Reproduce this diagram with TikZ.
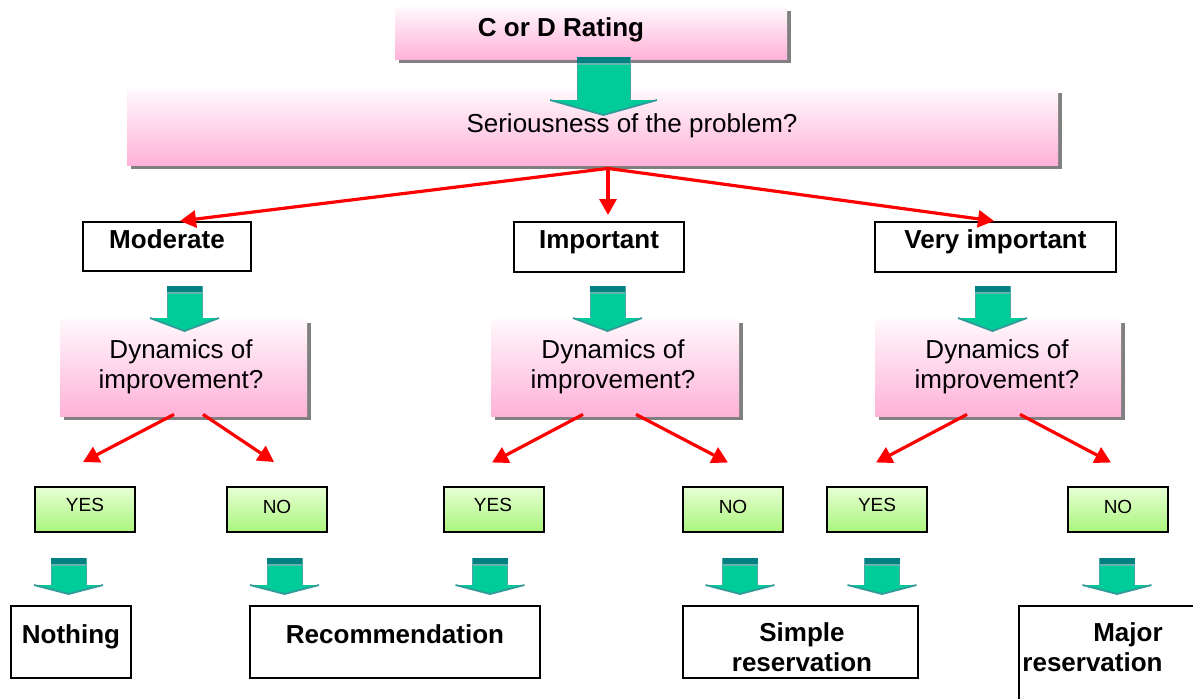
\documentclass[tikz,border=0pt]{standalone}
\usepackage{fontspec}
\setmainfont{Liberation Sans}
\usetikzlibrary{arrows.meta,shadows,calc}

\definecolor{pinktop}{RGB}{255,248,252}
\definecolor{pinkbot}{RGB}{255,178,216}
\definecolor{limetop}{RGB}{232,255,214}
\definecolor{limebot}{RGB}{170,245,125}
\definecolor{arrowgreen}{RGB}{0,204,153}
\definecolor{arrowteal}{RGB}{0,128,128}
\definecolor{shadowgray}{RGB}{128,128,128}

% fat down arrow: x, top, head base, tip, half shaft, half head
\newcommand{\tealarrow}[6]{%
  \fill[arrowgreen] (#1-#5,#2) -- (#1+#5,#2) -- (#1+#5,#3) -- (#1+#6,#3) -- (#1,#4) -- (#1-#6,#3) -- (#1-#5,#3) -- cycle;
  \draw[arrowteal!70, line width=0.4pt] (#1-#5,#3) -- (#1-#5,#2) -- (#1+#5,#2) -- (#1+#5,#3);
  \draw[arrowteal!80, line width=0.9pt] (#1-#6,#3) -- (#1,#4) -- (#1+#6,#3);
  \fill[arrowteal] (#1-#5,#2) rectangle (#1+#5,#2+6);
  \draw[arrowteal!60, line width=0.6pt] (#1-#5,#2+7) -- (#1+#5,#2+7);
}

\begin{document}
\begin{tikzpicture}[x=0.5pt, y=-0.5pt,
	qbox/.style={rectangle, inner sep=0pt, top color=pinktop, bottom color=pinkbot,
		drop shadow={shadow xshift=2pt, shadow yshift=-2pt, fill=shadowgray, opacity=1}},
	ratebox/.style={rectangle, draw=black, line width=1pt, fill=white, inner sep=0pt},
	ansbox/.style={rectangle, draw=black, line width=1pt, inner sep=0pt, top color=limetop, bottom color=limebot},
	bigtxt/.style={font=\fontsize{13}{15}\selectfont, anchor=base, inner sep=0pt, align=center},
	boldtxt/.style={bigtxt, font=\fontsize{13}{15}\selectfont\bfseries},
	smalltxt/.style={font=\fontsize{9.5}{11}\selectfont, anchor=base, inner sep=0pt},
	redline/.style={red, line width=1.6pt, -{Triangle[length=8pt,width=8.5pt]}}]
	\useasboundingbox (0,0) rectangle (1193,698);
	\clip (0,0) rectangle (1193,698);

	% question boxes
	\node[qbox, minimum width=196pt, minimum height=26pt] (rating) at (591,33) {};
	\node[qbox, minimum width=465.5pt, minimum height=38pt] (serious) at (592.5,127) {};
	\node[qbox, minimum width=123.5pt, minimum height=48.5pt] (dynL) at (183.5,367.5) {};
	\node[qbox, minimum width=124pt, minimum height=48.5pt] (dynM) at (615,367.5) {};
	\node[qbox, minimum width=123pt, minimum height=48.5pt] (dynR) at (998,367.5) {};

	% seriousness levels
	\node[ratebox, minimum width=84pt, minimum height=24.5pt] (moderate) at (167,246.5) {};
	\node[ratebox, minimum width=85pt, minimum height=25pt] (important) at (599,247) {};
	\node[ratebox, minimum width=120.5pt, minimum height=25pt] (veryimp) at (995.5,247) {};

	% answers
	\node[ansbox, minimum width=50pt, minimum height=22.5pt] (yesL) at (85,509) {};
	\node[ansbox, minimum width=50pt, minimum height=22.5pt] (noL) at (277,509) {};
	\node[ansbox, minimum width=50pt, minimum height=22.5pt] (yesM) at (494,509) {};
	\node[ansbox, minimum width=50pt, minimum height=22.5pt] (noM) at (733,509) {};
	\node[ansbox, minimum width=50pt, minimum height=22.5pt] (yesR) at (877,509) {};
	\node[ansbox, minimum width=50pt, minimum height=22.5pt] (noR) at (1118,509) {};

	% outcomes
	\node[ratebox, minimum width=60pt, minimum height=36pt] (nothing) at (71,642) {};
	\node[ratebox, minimum width=145pt, minimum height=36pt] (recomm) at (395,642) {};
	\node[ratebox, minimum width=117.5pt, minimum height=36pt] (simple) at (800.5,642) {};
	\node[ratebox, minimum width=100pt, minimum height=50pt] (major) at (1119,656) {};

	% texts
	\node[boldtxt] (ratingT) at (561,36) {C or D Rating};
	\node[bigtxt] (seriousT) at (632,132) {Seriousness of the problem?};
	\node[boldtxt] (moderateT) at (167,248) {Moderate};
	\node[boldtxt] (importantT) at (599,248) {Important};
	\node[boldtxt] (veryimpT) at (995.5,248) {Very important};
	\node[bigtxt] (dynLT) at (181,388) {Dynamics of\\improvement?};
	\node[bigtxt] (dynMT) at (613,388) {Dynamics of\\improvement?};
	\node[bigtxt] (dynRT) at (997,388) {Dynamics of\\improvement?};
	\node[smalltxt] (yesLT) at (85,511) {YES};
	\node[smalltxt] (noLT) at (277,513) {NO};
	\node[smalltxt] (yesMT) at (493,511) {YES};
	\node[smalltxt] (noMT) at (733,513) {NO};
	\node[smalltxt] (yesRT) at (877,511) {YES};
	\node[smalltxt] (noRT) at (1118,513) {NO};
	\node[boldtxt] (nothingT) at (71,643) {Nothing};
	\node[boldtxt] (recommT) at (395,643) {Recommendation};
	\node[boldtxt] (simpleT) at (802,671) {Simple\\reservation};
	\node[boldtxt, align=right, anchor=base east] (majorT) at (1163,671) {Major\\reservation};

	% fat arrows
	\tealarrow{603.5}{57}{100}{115}{26.5}{53.5}
	\tealarrow{184.5}{286}{318}{331}{17.5}{34.5}
	\tealarrow{607.5}{286}{318}{331}{17.5}{34.5}
	\tealarrow{992.5}{286}{318}{331}{17.5}{34.5}
	\tealarrow{68.5}{558}{585}{594}{17.5}{34.5}
	\tealarrow{284.5}{558}{585}{594}{17.5}{34.5}
	\tealarrow{490}{558}{585}{594}{17.5}{34.5}
	\tealarrow{740}{558}{585}{594}{17.5}{34.5}
	\tealarrow{882}{558}{585}{594}{17.5}{34.5}
	\tealarrow{1117}{558}{585}{594}{17.5}{34.5}

	% red branches
	\draw[redline] ($(serious.south)+(15.5,3)$) -- ($(moderate.north)+(13,0)$);
	\draw[redline] ($(serious.south)+(15.5,3)$) -- ($(important.north)+(9,-6)$);
	\draw[redline] ($(serious.south)+(15.5,3)$) -- ($(veryimp.north)+(-1.5,0)$);
	\draw[redline] ($(dynL.south)+(-9.5,-2)$) -- ($(yesL.north)+(-2,-23.5)$);
	\draw[redline] ($(dynL.south)+(19.5,-2)$) -- ($(noL.north)+(-3,-23.5)$);
	\draw[redline] ($(dynM.south)+(-32,-2)$) -- ($(yesM.north)+(-2,-23)$);
	\draw[redline] ($(dynM.south)+(21,-2)$) -- ($(noM.north)+(-5,-23)$);
	\draw[redline] ($(dynR.south)+(-31,-2)$) -- ($(yesR.north)+(-1,-23)$);
	\draw[redline] ($(dynR.south)+(22,-2)$) -- ($(noR.north)+(-7,-23)$);
\end{tikzpicture}
\end{document}
